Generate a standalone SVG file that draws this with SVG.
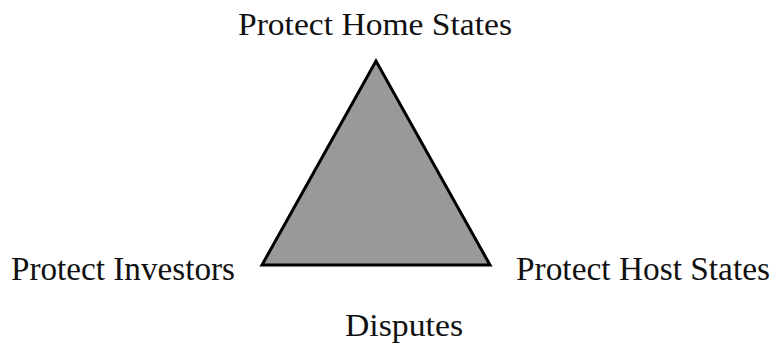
<svg xmlns="http://www.w3.org/2000/svg" width="774" height="350" viewBox="0 0 774 350">
<style>
.lbl{font-family:"Liberation Serif","Times New Roman",serif;fill:#111}
.top{font-size:32px}
.side{font-size:34px}
.bot{font-size:31px}
</style>
<rect width="774" height="350" fill="#fff"/>
<g id="triangle">
<polygon points="376,61 262,265 490,265" fill="#999" stroke="#000" stroke-width="3" stroke-linejoin="miter"/>
</g>
<g id="connectors"></g>
<g id="home"><text class="lbl top" x="238" y="35" textLength="274" lengthAdjust="spacingAndGlyphs">Protect Home States</text></g>
<g id="investors"><text class="lbl side" x="11" y="280" textLength="224" lengthAdjust="spacingAndGlyphs">Protect Investors</text></g>
<g id="host"><text class="lbl side" x="516" y="280" textLength="254" lengthAdjust="spacingAndGlyphs">Protect Host States</text></g>
<g id="disputes"><text class="lbl bot" x="345" y="336" textLength="118" lengthAdjust="spacingAndGlyphs">Disputes</text></g>
</svg>
